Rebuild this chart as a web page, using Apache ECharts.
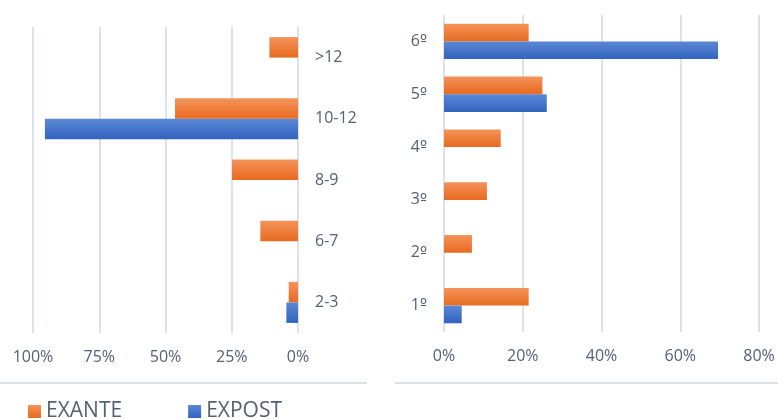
<!DOCTYPE html>
<html>
<head>
<meta charset="utf-8">
<script src="https://cdn.jsdelivr.net/npm/echarts@6/dist/echarts.min.js"></script>
<style>
  html, body { margin: 0; padding: 0; background: #ffffff; }
  #chart { width: 778px; height: 419px; }
</style>
</head>
<body>
<div id="chart"></div>
<script>
// Age groups (left panel) and school years (right panel)
const leftCategories = ['>12', '10-12', '8-9', '6-7', '2-3'];
const leftExante = [0.108, 0.464, 0.249, 0.142, 0.035];
const leftExpost = [null, 0.955, null, null, 0.044];

const rightCategories = ['6º', '5º', '4º', '3º', '2º', '1º'];
const rightExante = [0.215, 0.250, 0.144, 0.109, 0.071, 0.215];
const rightExpost = [0.696, 0.261, null, null, null, 0.045];

const seriesNames = ['EXANTE', 'EXPOST'];

const textColor = '#556072';
const gridColor = '#dde2e8';
const font = 'Open Sans';

function grad(top, bottom) {
  return new echarts.graphic.LinearGradient(0, 0, 0, 1, [
    { offset: 0, color: top },
    { offset: 1, color: bottom }
  ]);
}
const orange = grad('#f4935a', '#e86a1f');
const blue = grad('#5c88d4', '#3163c0');

const pct = v => Math.round(v * 100) + '%';

// ordinal labels: digit in the main face, the "º" in a face that draws it underlined
const ordinal = v => {
  const i = v.indexOf('º');
  return i < 0 ? v : '{d|' + v.slice(0, i) + '}{o|º}';
};

const chart = echarts.init(document.getElementById('chart'), null, { renderer: 'canvas' });

chart.setOption({
  animation: false,
  textStyle: { fontFamily: font },
  legend: {
    data: seriesNames,
    left: 28,
    top: 401,
    padding: 0,
    itemWidth: 13,
    itemHeight: 13,
    itemGap: 66,
    icon: 'rect',
    textStyle: { fontFamily: font, fontSize: 21, color: textColor },
    selectedMode: false
  },
  grid: [
    { left: 33, right: 480, top: 27, bottom: 86 },
    { left: 444, right: 19, top: 15, bottom: 87 }
  ],
  xAxis: [
    {
      gridIndex: 0, type: 'value', inverse: true, min: 0, max: 1, interval: 0.25,
      axisLine: { show: false }, axisTick: { show: false },
      splitLine: { lineStyle: { color: gridColor, width: 2 } },
      axisLabel: { formatter: pct, fontSize: 16, color: textColor, margin: 16, fontFamily: font }
    },
    {
      gridIndex: 1, type: 'value', min: 0, max: 0.8, interval: 0.2,
      axisLine: { show: false }, axisTick: { show: false },
      splitLine: { lineStyle: { color: gridColor, width: 2 } },
      axisLabel: { formatter: pct, fontSize: 16, color: textColor, margin: 16, fontFamily: font }
    }
  ],
  yAxis: [
    {
      gridIndex: 0, type: 'category', data: leftCategories, inverse: true, position: 'right',
      axisLine: { show: false }, axisTick: { show: false },
      axisLabel: { fontSize: 16, color: textColor, margin: 17, fontFamily: font }
    },
    {
      gridIndex: 1, type: 'category', data: rightCategories, inverse: true,
      axisLine: { show: false }, axisTick: { show: false },
      axisLabel: {
        formatter: ordinal, fontSize: 16, color: textColor, margin: 17, fontFamily: font,
        rich: {
          d: { fontSize: 16, color: textColor, fontFamily: font },
          o: { fontSize: 15, color: textColor, fontFamily: 'DejaVu Sans' }
        }
      }
    }
  ],
  series: [
    {
      name: 'EXANTE', type: 'bar', xAxisIndex: 0, yAxisIndex: 0, data: leftExante,
      barGap: '0%', barCategoryGap: '33%', itemStyle: { color: orange }
    },
    {
      name: 'EXPOST', type: 'bar', xAxisIndex: 0, yAxisIndex: 0, data: leftExpost,
      barGap: '0%', barCategoryGap: '33%', itemStyle: { color: blue }
    },
    {
      name: 'EXANTE', type: 'bar', xAxisIndex: 1, yAxisIndex: 1, data: rightExante,
      barGap: '0%', barCategoryGap: '33%', itemStyle: { color: orange }
    },
    {
      name: 'EXPOST', type: 'bar', xAxisIndex: 1, yAxisIndex: 1, data: rightExpost,
      barGap: '0%', barCategoryGap: '33%', itemStyle: { color: blue }
    }
  ],
  graphic: [
    // panel frame edges under each plot
    { type: 'line', shape: { x1: 0, y1: 383, x2: 367, y2: 383 }, style: { stroke: '#dcdfe3', lineWidth: 2 } },
    { type: 'line', shape: { x1: 395, y1: 383, x2: 778, y2: 383 }, style: { stroke: '#dcdfe3', lineWidth: 2 } }
  ]
});
</script>
</body>
</html>
